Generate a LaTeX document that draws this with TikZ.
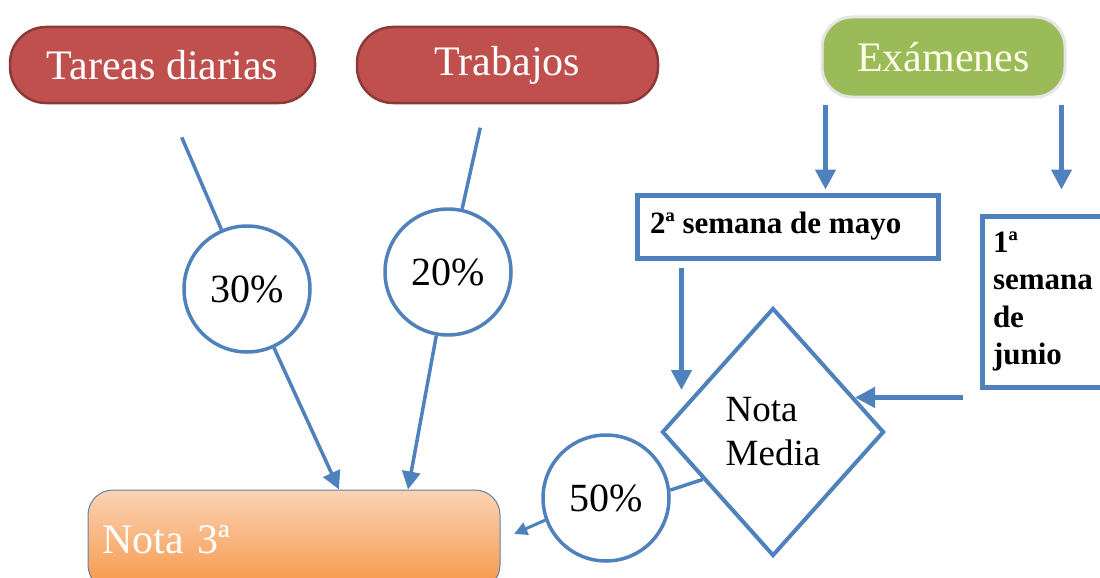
\documentclass[tikz,border=0pt]{standalone}
\usepackage{fontspec}
\setmainfont{Liberation Serif}
\usetikzlibrary{arrows.meta,shapes.geometric}
\definecolor{lineblue}{HTML}{4F81BD}
\definecolor{boxred}{HTML}{C0504D}
\definecolor{darkred}{HTML}{8C3A38}
\definecolor{boxgreen}{HTML}{9BBB59}
\definecolor{orangetop}{HTML}{FBD3B5}
\definecolor{orangebot}{HTML}{F79646}
\begin{document}
\begin{tikzpicture}
	[x=1pt,y=-1pt,
	topic/.style={rounded corners=36pt,draw=darkred,line width=2.5pt,fill=boxred,text=white,minimum height=76pt,font=\fontsize{42}{48}\selectfont},
	exam/.style={rounded corners=30pt,draw=black!10,line width=3pt,fill=boxgreen,text=white!92!yellow,minimum width=243pt,minimum height=80pt,font=\fontsize{42}{48}\selectfont},
	week/.style={draw=lineblue,line width=5pt,fill=white,align=flush left,font=\bfseries\fontsize{31}{37.5}\selectfont},
	pct/.style={circle,draw=lineblue,line width=3.5pt,fill=white,minimum size=126pt,font=\fontsize{40}{46}\selectfont},
	avg/.style={diamond,draw=lineblue,line width=4pt,fill=white,minimum width=222pt,minimum height=248pt,align=left,inner sep=0pt,font=\fontsize{37}{44}\selectfont},
	final/.style={rounded corners=25pt,draw=lineblue!60!gray,line width=1pt,top color=orangetop,bottom color=orangebot,text=white,minimum height=100pt,font=\fontsize{42}{48}\selectfont},
	link/.style={draw=lineblue,line width=3.5pt},
	arr/.style={link,-{Triangle[length=18pt,width=18pt]}},
	bigarr/.style={link,line width=4.5pt,-{Triangle[length=20pt,width=20pt]}},
	smallarr/.style={link,line width=3pt,-{Triangle[length=13pt,width=13pt]}}]
	\useasboundingbox (0,0) rectangle (1100,578);
	\node[topic,minimum width=305pt,name=tareas] at (162.5,65) {Tareas diarias};
	\node[topic,minimum width=301pt,name=trabajos] at (507.5,65) {Trabajos};
	\node[exam,name=examenes] at (943.5,57) {Exámenes};
	\node[week,text width=275pt,inner sep=13pt,minimum height=63pt,name=mayo] at (787.5,226.5) {2ª semana de mayo};
	\node[week,text width=111pt,inner sep=11pt,minimum height=171pt,name=junio] at (1048.5,301.5) {1ª\\semana\\de\\junio};
	\node[avg,name=media] at (773,432) {Nota\\Media};
	\node[pct,name=p30] at (247,289) {30\%};
	\node[pct,name=p20] at (448,272) {20\%};
	\node[pct,name=p50] at (606,498) {50\%};
	\node[final,text width=384pt,align=left,inner xsep=14pt,name=nota] at (294,540) {Nota 3ª};
	\coordinate (e1) at ([xshift=5pt]examenes.south west);
	\coordinate (e2) at ([xshift=-5pt]examenes.south east);
	\coordinate (m1) at ([xshift=47pt]mayo.south west);
	\coordinate (j1) at ([xshift=-17pt,yshift=-8pt]junio.south west);
	\draw[link,shorten <=36pt] ([xshift=5pt]tareas.south)--(p30);
	\draw[link,shorten <=24pt] ([xshift=-22pt]trabajos.south)--(p20);
	\draw[arr] (p30)--([xshift=45pt]nota.north);
	\draw[arr] (p20)--([xshift=114pt]nota.north);
	\draw[bigarr,shorten <=6pt,shorten >=3pt] (e1)--(e1 |- mayo.north);
	\draw[bigarr,shorten <=6pt,shorten >=24pt] (e2)--(e2 |- junio.north);
	\draw[bigarr,shorten <=7pt,shorten >=42pt] (m1)--(m1 |- media.west);
	\draw[bigarr,shorten >=82pt] (j1)--(j1 -| media.center);
	\draw[link] (media.214)--(p50.7);
	\draw[smallarr,shorten >=15pt] (p50.200)--(nota.east);
\end{tikzpicture}
\end{document}
